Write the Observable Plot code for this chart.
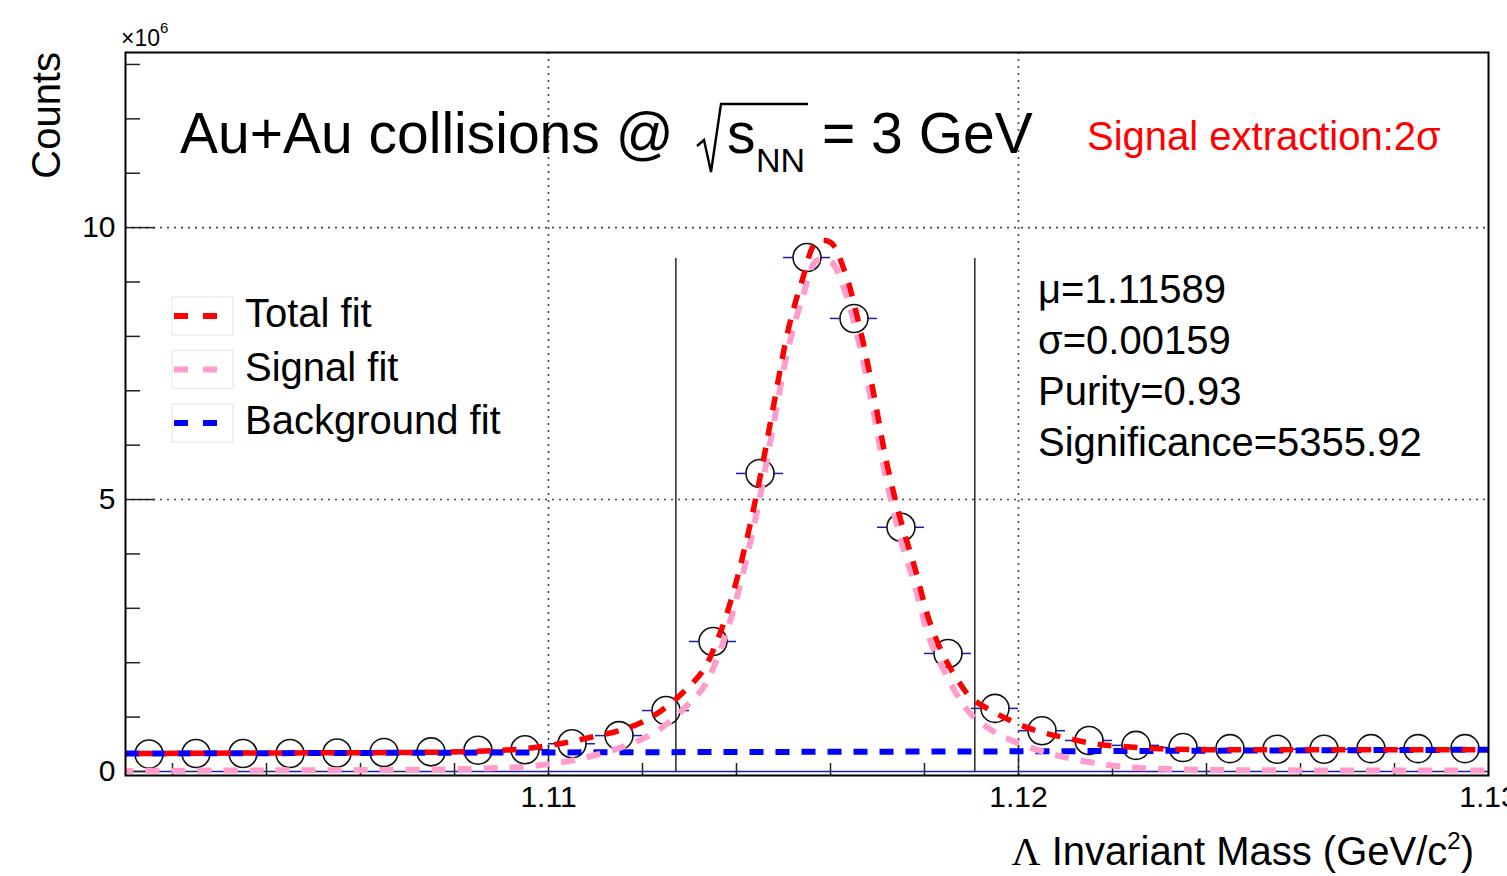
<!DOCTYPE html>
<html><head><meta charset="utf-8">
<script src="https://cdn.jsdelivr.net/npm/d3@7"></script>
<script src="https://cdn.jsdelivr.net/npm/@observablehq/plot@0.6"></script>
<style>html,body{margin:0;padding:0;background:#fff;overflow:hidden}</style>
</head><body><div id="chart"></div>
<script>
// ---- data (counts in units of 10^6) ----
const binCenters = [1.1015,1.1025,1.1035,1.1045,1.1055,1.1065,1.1075,1.1085,1.1095,1.1105,1.1115,1.1125,1.1135,1.1145,1.1155,1.1165,1.1175,1.1185,1.1195,1.1205,1.1215,1.1225,1.1235,1.1245,1.1255,1.1265,1.1275,1.1285,1.1295];
const counts = [0.32,0.33,0.33,0.33,0.34,0.35,0.36,0.39,0.40,0.51,0.66,1.12,2.39,5.48,9.45,8.33,4.49,2.17,1.16,0.75,0.57,0.48,0.44,0.42,0.41,0.41,0.42,0.42,0.42];
const binWidth = 0.001;

const fitX = [1.1010,1.1040,1.1070,1.1085,1.1095,1.1103,1.1109,1.1115,1.1120,1.1125,1.1130,1.1133,1.1136,1.1139,1.1142,1.1145,1.1148,1.1151,1.1154,1.1157,1.1160,1.1163,1.1166,1.1169,1.1172,1.1175,1.1178,1.1181,1.1184,1.1187,1.1190,1.1195,1.1200,1.1205,1.1210,1.1216,1.1222,1.1230,1.1240,1.1260,1.1300];
const totalFit = [0.33,0.34,0.35,0.37,0.42,0.52,0.63,0.75,0.91,1.18,1.57,1.87,2.43,3.20,4.20,5.40,6.78,8.12,9.04,9.73,9.73,9.20,8.25,7.03,5.66,4.60,3.73,2.78,2.14,1.69,1.35,1.08,0.87,0.72,0.62,0.51,0.46,0.42,0.40,0.40,0.40];
const signalFit = [0.01,0.02,0.03,0.05,0.09,0.17,0.28,0.43,0.60,0.86,1.26,1.55,2.10,2.87,3.86,5.06,6.44,7.78,8.70,9.39,9.38,8.85,7.90,6.68,5.31,4.25,3.40,2.45,1.88,1.40,1.04,0.72,0.52,0.37,0.26,0.16,0.09,0.05,0.03,0.02,0.02];
const bgX = [1.101,1.110,1.120,1.130];
const bgFit = [0.33,0.35,0.37,0.40];

const windowEdges = [1.11271, 1.11907]; // mu +/- 2 sigma
const windowTop = 9.43;

const xDomain = [1.101, 1.13];
const yDomain = [-0.074, 13.22];
const xMajorTicks = [1.11, 1.12];
const xLabelTicks = [1.11, 1.12, 1.13];
const xMinorTicks = [1.102,1.104,1.106,1.108,1.112,1.114,1.116,1.118,1.122,1.124,1.126,1.128];
const yMajorTicks = [0, 5, 10];
const yMinorTicks = [1,2,3,4,6,7,8,9,11,12,13];

const legendLabels = ["Total fit", "Signal fit", "Background fit"];
const statsLines = ["\u03bc=1.11589", "\u03c3=0.00159", "Purity=0.93", "Significance=5355.92"];

// ---- tables ----
const points = binCenters.map((c, i) => ({x: c, y: counts[i], lo: c - binWidth / 2, hi: c + binWidth / 2}));
const fitRows = fitX.map((x, i) => ({x, total: totalFit[i], signal: signalFit[i]}));
const bgRows = bgX.map((x, i) => ({x, y: bgFit[i]}));
const windowRows = windowEdges.map(x => ({x, top: windowTop}));

const W = 1507, H = 876, mL = 125, mR = 19, mT = 52, mB = 101;
const fw = W - mL - mR, fh = H - mT - mB;
const FONT = "'Liberation Sans', Arial, Helvetica, sans-serif";
const navy = "#1c1ca0";
const pink = "#ff9ccc";

const svg = Plot.plot({
  width: W, height: H,
  marginLeft: mL, marginRight: mR, marginTop: mT, marginBottom: mB,
  style: {fontFamily: FONT, background: "white", color: "black", overflow: "hidden"},
  x: {domain: xDomain},
  y: {domain: yDomain},
  marks: [
    Plot.gridX(xMajorTicks, {stroke: "#444", strokeOpacity: 1, strokeWidth: 1.6, strokeDasharray: "2,5"}),
    Plot.gridY([5, 10], {stroke: "#444", strokeOpacity: 1, strokeWidth: 1.6, strokeDasharray: "2,5"}),
    Plot.ruleY([0], {stroke: navy, strokeWidth: 1.5}),
    // inner ticks
    Plot.ruleX(xMinorTicks, {x: d => d, insetTop: fh - 12, stroke: "#222", strokeWidth: 1.5}),
    Plot.ruleX(xMajorTicks, {x: d => d, insetTop: fh - 30, stroke: "#222", strokeWidth: 1.5}),
    Plot.ruleY(yMinorTicks, {y: d => d, insetRight: fw - 15, stroke: "#222", strokeWidth: 1.5}),
    Plot.ruleY(yMajorTicks, {y: d => d, insetRight: fw - 30, stroke: "#222", strokeWidth: 1.5}),
    Plot.axisX(xLabelTicks, {tickSize: 0, tickPadding: 10, fontSize: 30, label: null, tickFormat: d => d3.format(".2f")(d)}),
    Plot.axisY(yMajorTicks, {tickSize: 0, tickPadding: 10, fontSize: 30, label: null, tickFormat: d => String(d)}),
    // signal window lines
    Plot.ruleX(windowRows, {x: "x", y1: 0, y2: "top", stroke: "#333", strokeWidth: 1.6}),
    // error bars (horizontal, bin width) outside the marker
    Plot.ruleY(points, {y: "y", x1: "lo", x2: "x", insetRight: 14, stroke: navy, strokeWidth: 1.5}),
    Plot.ruleY(points, {y: "y", x1: "x", x2: "hi", insetLeft: 14, stroke: navy, strokeWidth: 1.5}),
    Plot.dot(points, {x: "x", y: "y", r: 14, stroke: "#111", strokeWidth: 1.6, fill: "none"}),
    // fits
    Plot.line(bgRows, {x: "x", y: "y", stroke: "#0000ff", strokeWidth: 6, strokeDasharray: "14,12", strokeLinecap: "butt"}),
    Plot.line(fitRows, {x: "x", y: "signal", stroke: pink, strokeWidth: 6, strokeDasharray: "14,12", strokeDashoffset: 6, strokeLinecap: "butt", curve: "catmull-rom"}),
    Plot.line(fitRows, {x: "x", y: "total", stroke: "#ff0000", strokeWidth: 5.5, strokeDasharray: "14,12", strokeDashoffset: 13, strokeLinecap: "butt", curve: "catmull-rom"}),
    Plot.frame({stroke: "#000", strokeWidth: 2})
  ]
});
document.getElementById("chart").appendChild(svg);

// ---- annotations ----
const g = d3.select(svg).append("g").attr("font-family", FONT).attr("fill", "black").attr("text-anchor", "start");

// y-axis title and exponent
g.append("text").attr("transform", `translate(60,${mT}) rotate(-90)`).attr("text-anchor", "end")
  .attr("font-size", 40).text("Counts");
const expo = g.append("text").attr("x", 121).attr("y", 46).attr("font-size", 23);
expo.append("tspan").text("\u00d710");
expo.append("tspan").attr("font-size", 15).attr("dy", -13).text("6");

// x-axis title
const xt = g.append("text").attr("x", 1474).attr("y", 865).attr("text-anchor", "end").attr("font-size", 40);
xt.append("tspan").attr("font-family", "'Liberation Serif', 'DejaVu Serif', serif").text("\u039b");
xt.append("tspan").text(" Invariant Mass (GeV/c");
xt.append("tspan").attr("font-size", 24).attr("dy", -16).text("2");
xt.append("tspan").attr("dy", 16).text(")");

// main title
g.append("text").attr("x", 180).attr("y", 153).attr("font-size", 57).text("Au+Au collisions @");
g.append("path").attr("d", "M697,146 L704,140 L711,172 L721,104 L808,104")
  .attr("fill", "none").attr("stroke", "black").attr("stroke-width", 2.4);
g.append("text").attr("x", 727).attr("y", 153).attr("font-size", 57).text("s");
g.append("text").attr("x", 756).attr("y", 172).attr("font-size", 34).text("NN");
g.append("text").attr("x", 822).attr("y", 153).attr("font-size", 57).text("= 3 GeV");

// signal extraction label
g.append("text").attr("x", 1087).attr("y", 150).attr("font-size", 40).attr("fill", "#ff0000").text("Signal extraction:2\u03c3");

// statistics
statsLines.forEach((s, i) => {
  g.append("text").attr("x", 1038).attr("y", 303 + i * 51).attr("font-size", 40).text(s);
});

// legend
const legColors = ["#ff0000", pink, "#0000ff"];
legendLabels.forEach((lab, i) => {
  const y0 = 297 + i * 53.5;
  g.append("rect").attr("x", 172).attr("y", y0).attr("width", 61).attr("height", 38)
    .attr("fill", "none").attr("stroke", "#e8e8e8").attr("stroke-width", 1.2);
  g.append("line").attr("x1", 174).attr("x2", 219).attr("y1", y0 + 19).attr("y2", y0 + 19)
    .attr("stroke", legColors[i]).attr("stroke-width", 6).attr("stroke-dasharray", "14,15");
  g.append("text").attr("x", 245).attr("y", y0 + 30).attr("font-size", 40).text(lab);
});
</script>
</body></html>
